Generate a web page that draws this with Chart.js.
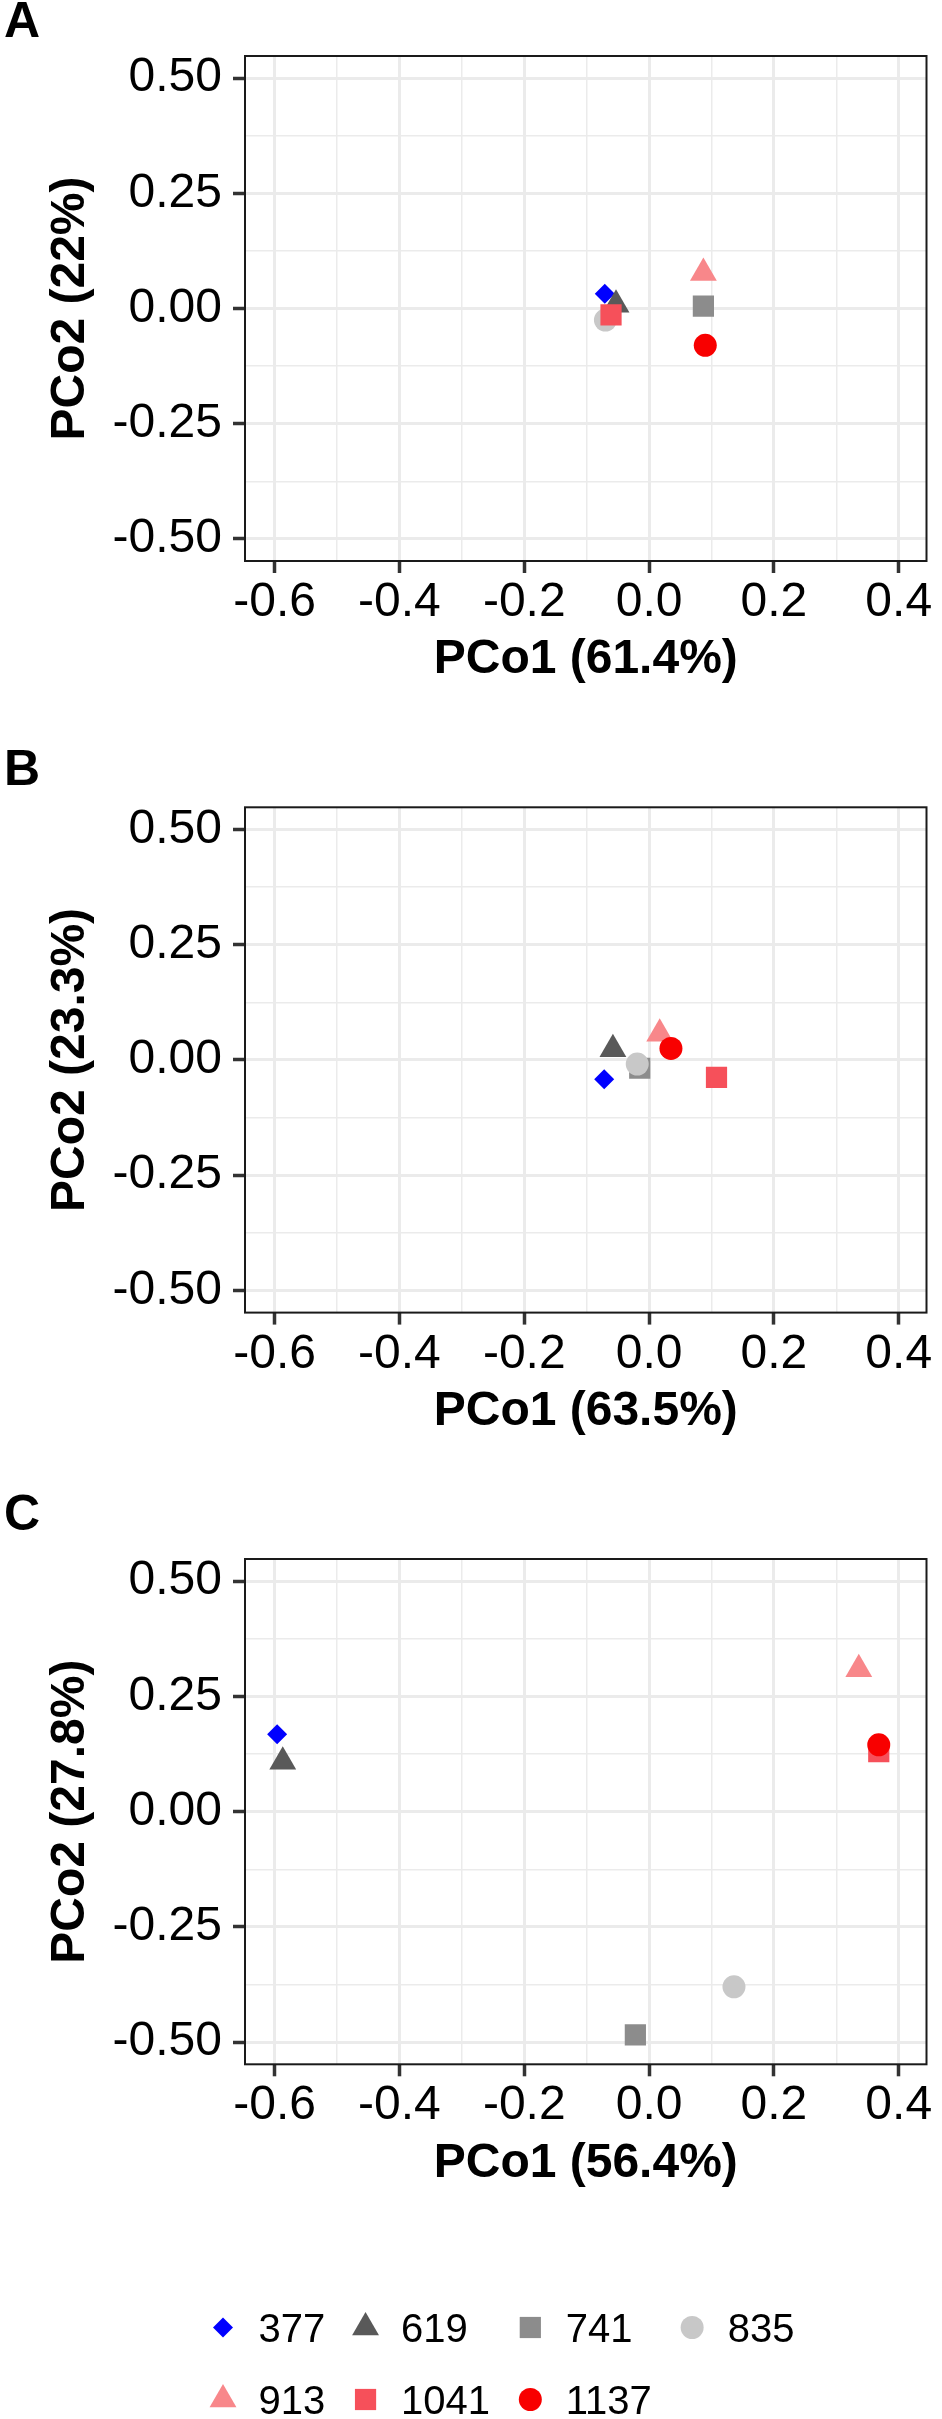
<!DOCTYPE html>
<html><head><meta charset="utf-8">
<script src="https://cdn.jsdelivr.net/npm/chart.js@4.4.1/dist/chart.umd.min.js"></script>
<style>
html,body{margin:0;padding:0;background:#fff;}
body{width:942px;height:2419px;position:relative;overflow:hidden;}
canvas{position:absolute;left:0;}
</style></head><body>
<canvas id="cA" width="942" height="748" style="top:0px"></canvas>
<canvas id="cB" width="942" height="745" style="top:748px"></canvas>
<canvas id="cC" width="942" height="926" style="top:1493px"></canvas>
<script>
// ---------- data ----------
const groups = ['377','619','741','835','913','1041','1137'];
const groupColors = ['#0000FF','#595959','#8C8C8C','#C8C8C8','#F8878A','#F6505A','#F80000'];
const groupShapes = ['rectRot','triangle','rect','circle','triangle','rect','circle'];

const pcoA_x = [-0.071, -0.053, 0.087, -0.070, 0.087, -0.061, 0.090];
const pcoA_y = [ 0.032,  0.008, 0.005, -0.025, 0.077, -0.014, -0.080];

const pcoB_x = [-0.072, -0.058, -0.015, -0.019, 0.017, 0.108, 0.035];
const pcoB_y = [-0.042,  0.023, -0.018, -0.009, 0.057, -0.038, 0.025];

const pcoC_x = [-0.596, -0.587, -0.022, 0.136, 0.336, 0.368, 0.368];
const pcoC_y = [ 0.168,  0.108, -0.484, -0.380, 0.309, 0.130, 0.145];

const panelLetters = ['A','B','C'];
const xTitles = ['PCo1 (61.4%)','PCo1 (63.5%)','PCo1 (56.4%)'];
const yTitles = ['PCo2 (22%)','PCo2 (23.3%)','PCo2 (27.8%)'];

const xMajorTicks  = [-0.6, -0.4, -0.2, 0, 0.2, 0.4];
const xMajorLabels = ['-0.6','-0.4','-0.2','0.0','0.2','0.4'];
const xMinorTicks  = [-0.5, -0.3, -0.1, 0.1, 0.3];
const yMajorTicks  = [-0.5, -0.25, 0, 0.25, 0.5];
const yMajorLabels = ['-0.50','-0.25','0.00','0.25','0.50'];
const yMinorTicks  = [-0.375, -0.125, 0.125, 0.375];
const xLimits = [-0.6475, 0.4445];
const yLimits = [-0.548, 0.548];

// ---------- styling ----------
Chart.defaults.font.family = "'Liberation Sans', Arial, Helvetica, sans-serif";
Chart.defaults.color = '#000';
const markerRadius = {rectRot: 10, triangle: 15.5, rect: 15, circle: 11.5};
const GRID = '#EBEBEB';

function findIdx(v, arr){ return arr.findIndex(a => Math.abs(a - v) < 1e-6); }
function isMajor(v, arr){ return findIdx(v, arr) >= 0; }

const framePlugin = {
  id: 'frame',
  afterDatasetsDraw(chart){
    const a = chart.chartArea, ctx = chart.ctx;
    ctx.save();
    ctx.strokeStyle = '#1a1a1a';
    ctx.lineWidth = 2;
    ctx.strokeRect(a.left, a.top, a.right - a.left, a.bottom - a.top);
    ctx.restore();
  }
};

function drawShape(ctx, style, r, x, y){
  if (Chart.helpers && Chart.helpers.drawPoint) {
    Chart.helpers.drawPoint(ctx, {pointStyle: style, radius: r, borderWidth: 0, rotation: 0}, x, y);
    return;
  }
  ctx.beginPath();
  if (style === 'circle') ctx.arc(x, y, r, 0, Math.PI*2);
  else if (style === 'rect') { const s = r*Math.SQRT1_2; ctx.rect(x-s, y-s, 2*s, 2*s); }
  else if (style === 'rectRot') { ctx.moveTo(x-r,y); ctx.lineTo(x,y-r); ctx.lineTo(x+r,y); ctx.lineTo(x,y+r); ctx.closePath(); }
  else { for (let k=0;k<3;k++){ const a = k*2*Math.PI/3; const px = x+Math.sin(a)*r, py = y-Math.cos(a)*r; k?ctx.lineTo(px,py):ctx.moveTo(px,py);} ctx.closePath(); }
  ctx.fill();
}

const gridLegendPlugin = {
  id: 'gridLegend',
  afterDraw(chart){
    const ctx = chart.ctx;
    const ds = chart.data.datasets;
    const nCols = 4;
    const rowY = [834.5, 906.5];
    const font = "40px 'Liberation Sans', Arial, sans-serif";
    ctx.save();
    ctx.font = font;
    const colW = [];
    ds.forEach((d, i) => {
      const c = i % nCols;
      colW[c] = Math.max(colW[c] || 0, ctx.measureText(d.label).width);
    });
    const colX = [];
    let x = 223;
    for (let c = 0; c < nCols; c++) { colX.push(x); x += 35.5 + colW[c] + 40.3; }
    ds.forEach((d, i) => {
      const c = i % nCols, r = Math.floor(i / nCols);
      const sx = colX[c], sy = rowY[r];
      ctx.fillStyle = d.pointBackgroundColor;
      drawShape(ctx, d.pointStyle, d.pointRadius, sx, sy);
      ctx.fillStyle = '#000';
      ctx.font = font;
      ctx.textAlign = 'left';
      ctx.textBaseline = 'alphabetic';
      ctx.fillText(d.label, sx + 35.5, sy + 14.5);
    });
    ctx.restore();
  }
};

function buildPanel(canvasId, layoutCfg, xs, ys, letter, xTitle, yTitle, extraPlugins){
  const datasets = groups.map((g, i) => ({
    label: g,
    data: [{x: xs[i], y: ys[i]}],
    pointStyle: groupShapes[i],
    pointRadius: markerRadius[groupShapes[i]],
    pointHoverRadius: markerRadius[groupShapes[i]],
    pointBackgroundColor: groupColors[i],
    pointBorderWidth: 0,
    backgroundColor: groupColors[i],
    borderWidth: 0,
    order: -i
  }));
  const gridOpts = (majors) => ({
    color: GRID,
    lineWidth: c => isMajor(c.tick.value, majors) ? 3 : 1.5,
    tickLength: 12,
    tickColor: c => isMajor(c.tick.value, majors) ? '#333333' : 'rgba(0,0,0,0)',
    tickWidth: c => isMajor(c.tick.value, majors) ? 3.5 : 0
  });
  return new Chart(document.getElementById(canvasId), {
    type: 'scatter',
    data: { datasets },
    options: {
      responsive: false,
      animation: false,
      events: [],
      layout: { padding: { left: 4, right: 9, top: 0, bottom: layoutCfg.padBottom } },
      plugins: {
        legend: { display: false },
        tooltip: { enabled: false },
        title: {
          display: true, text: letter, align: 'start', color: '#000',
          font: { size: 50, weight: 'bold', lineHeight: 0.9 },
          padding: { top: 0.5, bottom: layoutCfg.titlePadBottom }
        }
      },
      scales: {
        x: {
          type: 'linear', min: xLimits[0], max: xLimits[1],
          afterBuildTicks: s => { s.ticks = xMajorTicks.concat(xMinorTicks).sort((a,b)=>a-b).map(v => ({value: v})); },
          afterFit: s => { s.height = 128; s.paddingLeft = 0; s.paddingRight = 0; },
          ticks: {
            autoSkip: false, maxRotation: 0, minRotation: 0, padding: 1, color: '#000',
            font: { size: 48 },
            callback: v => { const k = findIdx(v, xMajorTicks); return k >= 0 ? xMajorLabels[k] : ''; }
          },
          grid: gridOpts(xMajorTicks),
          border: { display: false },
          title: { display: true, text: xTitle, color: '#000', font: { size: 48, weight: 'bold' }, padding: { top: 0, bottom: 0 } }
        },
        y: {
          type: 'linear', min: yLimits[0], max: yLimits[1],
          afterBuildTicks: s => { s.ticks = yMajorTicks.concat(yMinorTicks).sort((a,b)=>a-b).map(v => ({value: v})); },
          afterFit: s => { s.width = 241; s.paddingTop = 0; s.paddingBottom = 0; },
          ticks: {
            autoSkip: false, padding: 11, color: '#000',
            font: { size: 48 },
            callback: v => { const k = findIdx(v, yMajorTicks); return k >= 0 ? yMajorLabels[k] : ''; }
          },
          grid: gridOpts(yMajorTicks),
          border: { display: false },
          title: { display: true, text: yTitle, color: '#000', font: { size: 48, weight: 'bold' }, padding: { top: 37.6, bottom: 0 } }
        }
      }
    },
    plugins: [framePlugin].concat(extraPlugins || [])
  });
}

// frame top / bottom inside each canvas: title block = 45.5 + padBottom; x-axis block = 128
buildPanel('cA', { titlePadBottom: 56 - 45.5,   padBottom: 748 - 561 - 128 },   pcoA_x, pcoA_y, panelLetters[0], xTitles[0], yTitles[0]);
buildPanel('cB', { titlePadBottom: 59.3 - 45.5, padBottom: 745 - 564.6 - 128 }, pcoB_x, pcoB_y, panelLetters[1], xTitles[1], yTitles[1]);
buildPanel('cC', { titlePadBottom: 66 - 45.5,   padBottom: 926 - 571.3 - 128 }, pcoC_x, pcoC_y, panelLetters[2], xTitles[2], yTitles[2], [gridLegendPlugin]);
</script>
</body></html>
